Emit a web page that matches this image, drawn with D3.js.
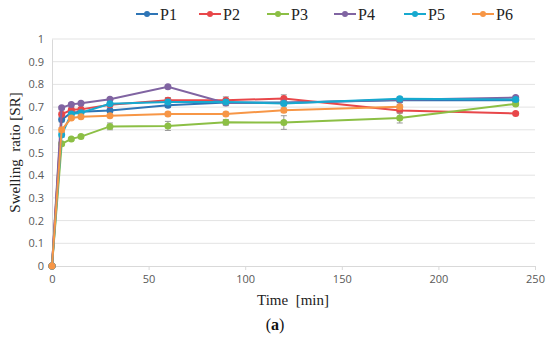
<!DOCTYPE html>
<html>
<head>
<meta charset="utf-8">
<script src="https://d3js.org/d3.v7.min.js"></script>
<style>
  body { margin: 0; background: #fff; }
</style>
</head>
<body>
<div id="chart"></div>
<script>
// time points [min]
var times = [0, 5, 10, 15, 30, 60, 90, 120, 180, 240];
var seriesNames = ["P1", "P2", "P3", "P4", "P5", "P6"];
var colors = ["#2e75b6", "#e8474a", "#8cbf45", "#8064a2", "#17a9cf", "#f79646"];

var p1 = [0, 0.645, 0.675, 0.68, 0.685, 0.708, 0.72, 0.72, 0.73, 0.73];
var p2 = [0, 0.668, 0.688, 0.69, 0.71, 0.73, 0.73, 0.738, 0.685, 0.672];
var p3 = [0, 0.538, 0.56, 0.57, 0.615, 0.617, 0.633, 0.632, 0.652, 0.714];
var p4 = [0, 0.697, 0.712, 0.717, 0.735, 0.79, 0.718, 0.718, 0.732, 0.742];
var p5 = [0, 0.578, 0.67, 0.675, 0.715, 0.722, 0.722, 0.716, 0.737, 0.733];
var p6 = [0, 0.6, 0.652, 0.657, 0.662, 0.67, 0.67, 0.686, 0.702, null];

// error bar half-widths
var e1 = [0, 0.01, 0.008, 0.008, 0.01, 0.01, 0.012, 0.012, 0.008, 0.006];
var e2 = [0, 0.01, 0.008, 0.008, 0.008, 0.012, 0.015, 0.016, 0.01, 0.006];
var e3 = [0, 0.008, 0.006, 0.006, 0.015, 0.02, 0.012, 0.03, 0.022, 0.006];
var e4 = [0, 0.006, 0.006, 0.006, 0.006, 0.006, 0.012, 0.01, 0.008, 0.006];
var e5 = [0, 0.01, 0.008, 0.008, 0.008, 0.01, 0.01, 0.01, 0.008, 0.006];
var e6 = [0, 0.01, 0.006, 0.006, 0.006, 0.008, 0.008, 0.01, 0.01, 0];

var values = [p1, p2, p3, p4, p5, p6];
var errors = [e1, e2, e3, e4, e5, e6];
var xTicks = [0, 50, 100, 150, 200, 250];
var yTicks = [0, 0.1, 0.2, 0.3, 0.4, 0.5, 0.6, 0.7, 0.8, 0.9, 1];

var width = 550, height = 342;
var svg = d3.select("#chart").append("svg")
    .attr("width", width)
    .attr("height", height);

var x = d3.scaleLinear().domain([0, 250]).range([52, 535]);
var y = d3.scaleLinear().domain([0, 1]).range([266, 39]);

// gridlines
svg.append("g")
    .selectAll("line")
    .data(yTicks.slice(1))
    .enter().append("line")
    .attr("x1", x(0)).attr("x2", x(250))
    .attr("y1", d => y(d)).attr("y2", d => y(d))
    .style("stroke", "#e3e3e3")
    .style("stroke-width", 1);

// y axis
var yAxis = svg.append("g")
    .attr("transform", "translate(" + x(0) + ",0)")
    .call(d3.axisLeft(y).tickValues(yTicks).tickSize(0).tickPadding(8)
        .tickFormat(d => d === 0 || d === 1 ? d : d3.format(".1f")(d)));
yAxis.select(".domain").style("stroke", "#d9d9d9");
yAxis.selectAll("text")
    .style("font-family", "'Open Sans', sans-serif")
    .style("font-size", "11px")
    .style("fill", "#595959");

// x axis
var xAxis = svg.append("g")
    .attr("transform", "translate(0," + y(0) + ")")
    .call(d3.axisBottom(x).tickValues(xTicks).tickSize(4).tickPadding(5).tickSizeOuter(0));
xAxis.select(".domain").style("stroke", "#d9d9d9");
xAxis.selectAll(".tick line").style("stroke", "#d9d9d9");
xAxis.selectAll("text")
    .style("font-family", "'Open Sans', sans-serif")
    .style("font-size", "11px")
    .style("fill", "#595959");

// series
var line = d3.line()
    .defined(d => d !== null)
    .x((d, i) => x(times[i]))
    .y(d => y(d));

values.forEach(function (vals, s) {
    var pts = vals.map((v, i) => ({ t: times[i], v: v, e: errors[s][i] }))
        .filter(d => d.v !== null);
    var g = svg.append("g");
    // error bars
    var eb = g.selectAll("g.err")
        .data(pts)
        .enter().append("g");
    eb.append("line")
        .attr("x1", d => x(d.t)).attr("x2", d => x(d.t))
        .attr("y1", d => y(d.v - d.e)).attr("y2", d => y(d.v + d.e))
        .style("stroke", "#999").style("stroke-width", 1);
    eb.append("line")
        .attr("x1", d => x(d.t) - 3).attr("x2", d => x(d.t) + 3)
        .attr("y1", d => y(d.v - d.e)).attr("y2", d => y(d.v - d.e))
        .style("stroke", "#999").style("stroke-width", 1);
    eb.append("line")
        .attr("x1", d => x(d.t) - 3).attr("x2", d => x(d.t) + 3)
        .attr("y1", d => y(d.v + d.e)).attr("y2", d => y(d.v + d.e))
        .style("stroke", "#999").style("stroke-width", 1);

    g.append("path")
        .datum(vals)
        .attr("d", line)
        .style("fill", "none")
        .style("stroke", colors[s])
        .style("stroke-width", 2);

    g.selectAll("circle")
        .data(pts)
        .enter().append("circle")
        .attr("cx", d => x(d.t))
        .attr("cy", d => y(d.v))
        .attr("r", 3.5)
        .style("fill", colors[s]);
});

// legend
var legendX = [136, 199, 267, 334, 404, 472];
var legend = svg.append("g")
    .selectAll("g")
    .data(seriesNames)
    .enter().append("g")
    .attr("transform", (d, i) => "translate(" + legendX[i] + ",14)");
legend.append("line")
    .attr("x1", 0).attr("x2", 22)
    .style("stroke", (d, i) => colors[i])
    .style("stroke-width", 2);
legend.append("circle")
    .attr("cx", 11).attr("r", 3)
    .style("fill", (d, i) => colors[i]);
legend.append("text")
    .attr("x", 24).attr("y", 5.5)
    .text(d => d)
    .style("font-family", "'Liberation Serif', serif")
    .style("font-size", "16px")
    .style("fill", "#222");

// axis titles
svg.append("text")
    .attr("transform", "translate(20," + ((y(0) + y(1)) / 2) + ") rotate(-90)")
    .attr("text-anchor", "middle")
    .text("Swelling  ratio [SR]")
    .style("font-family", "'Liberation Serif', serif")
    .style("font-size", "15px")
    .style("white-space", "pre")
    .style("fill", "#222");

svg.append("text")
    .attr("x", 293).attr("y", 305)
    .attr("text-anchor", "middle")
    .text("Time  [min]")
    .style("font-family", "'Liberation Serif', serif")
    .style("font-size", "15px")
    .style("white-space", "pre")
    .style("fill", "#222");

var cap = svg.append("text")
    .attr("x", 275).attr("y", 330)
    .attr("text-anchor", "middle")
    .style("font-family", "'Liberation Serif', serif")
    .style("font-size", "16px")
    .style("fill", "#111");
cap.append("tspan").text("(");
cap.append("tspan").text("a").style("font-weight", "bold");
cap.append("tspan").text(")");
</script>
</body>
</html>
